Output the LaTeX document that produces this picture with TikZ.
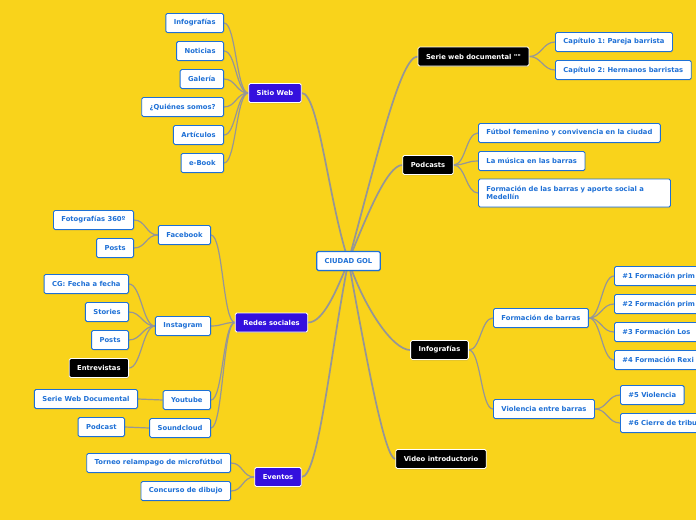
\documentclass[tikz,border=0pt]{standalone}
\usepackage{fontspec}
\setmainfont{DejaVu Sans}[Ligatures=TeXOff]
\frenchspacing
\usetikzlibrary{shadows,backgrounds}
\definecolor{mapyellow}{RGB}{249,211,27}
\definecolor{topicblue}{RGB}{52,16,222}
\definecolor{textblue}{RGB}{30,112,214}
\definecolor{linkgray}{RGB}{150,150,150}
\tikzset{
  box/.style={rectangle, rounded corners=1.5pt, minimum height=19pt, inner xsep=8pt, inner ysep=2pt,
    font=\fontsize{6.8}{8}\selectfont\bfseries,
    drop shadow={shadow xshift=0.5pt, shadow yshift=-1pt, opacity=0.25}},
  subtopic/.style={box, draw=textblue, line width=0.9pt, fill=white, text=textblue},
  maintopic/.style={box, draw=white, line width=0.8pt, fill=topicblue, text=white},
  darktopic/.style={box, draw=white, line width=0.8pt, fill=black, text=white},
  rootnode/.style={subtopic, line width=1.2pt},
  cutnode/.style={subtopic, anchor=west, text width=100pt, align=left},
  link/.style={draw=linkgray, line width=1.2pt},
  rootlink/.style={draw=linkgray, line width=1.7pt},
}
\begin{document}
\begin{tikzpicture}[x=1pt, y=-1pt]
\useasboundingbox (0,0) rectangle (696,520);
\clip (0,0) rectangle (696,520);
% Central topic
\node[rootnode] (root) at (348.5,261) {CIUDAD GOL};
% Left main topics
\node[maintopic] (sw) at (275,93) {Sitio Web};
\node[maintopic] (rs) at (271.5,322.5) {Redes sociales};
\node[maintopic] (ev) at (278,477) {Eventos};
% Right main topics
\node[darktopic] (sd) at (473.5,56.5) {Serie web documental ""};
\node[darktopic] (pc) at (428,165) {Podcasts};
\node[darktopic] (ig) at (439.5,350) {Infografías};
\node[darktopic] (vi) at (441,459) {Video introductorio};
% Sitio Web children
\node[subtopic, anchor=east] (sw1) at (224,23) {Infografías};
\node[subtopic, anchor=east] (sw2) at (224,51) {Noticias};
\node[subtopic, anchor=east] (sw3) at (224,79) {Galería};
\node[subtopic, anchor=east] (sw4) at (224,107) {¿Quiénes somos?};
\node[subtopic, anchor=east] (sw5) at (224,135) {Artículos};
\node[subtopic, anchor=east] (sw6) at (224,163) {e-Book};
% Redes sociales children
\node[subtopic, anchor=east] (fb) at (211,235) {Facebook};
\node[subtopic, anchor=east] (in) at (211,326) {Instagram};
\node[subtopic, anchor=east] (yt) at (211,400) {Youtube};
\node[subtopic, anchor=east] (sc) at (211,428) {Soundcloud};
\node[subtopic, anchor=east] (fb1) at (134,220) {Fotografías 360º};
\node[subtopic, anchor=east] (fb2) at (134,248) {Posts};
\node[subtopic, anchor=east] (in1) at (129,284) {CG: Fecha a fecha};
\node[subtopic, anchor=east] (in2) at (129,312) {Stories};
\node[subtopic, anchor=east] (in3) at (129,340) {Posts};
\node[darktopic, anchor=east] (in4) at (129,368) {Entrevistas};
\node[subtopic, anchor=east] (yt1) at (138,399) {Serie Web Documental};
\node[subtopic, anchor=east] (sc1) at (125,427) {Podcast};
% Eventos children
\node[subtopic, anchor=east] (ev1) at (231,463) {Torneo relampago de microfútbol};
\node[subtopic, anchor=east] (ev2) at (231,491) {Concurso de dibujo};
% Serie web documental children
\node[subtopic, anchor=west] (sd1) at (555,42) {Capítulo 1: Pareja barrista};
\node[subtopic, anchor=west] (sd2) at (555,70) {Capítulo 2: Hermanos barristas};
% Podcasts children
\node[subtopic, anchor=west] (pc1) at (478,133) {Fútbol femenino y convivencia en la ciudad};
\node[subtopic, anchor=west] (pc2) at (478,161) {La música en las barras};
\node[subtopic, anchor=west, text width=176pt, align=left, minimum height=28pt] (pc3) at (478,193)
  {Formación de las barras y aporte social a\\Medellín};
% Infografias children
\node[subtopic, anchor=west] (fo) at (493,318) {Formación de barras};
\node[subtopic, anchor=west] (vb) at (493,409) {Violencia entre barras};
\node[cutnode] (fo1) at (614,276) {\#1 Formación prim};
\node[cutnode] (fo2) at (614,304) {\#2 Formación prim};
\node[cutnode] (fo3) at (614,332) {\#3 Formación Los};
\node[cutnode] (fo4) at (614,360) {\#4 Formación Rexi};
\node[subtopic, anchor=west] (vb1) at (620,395) {\#5 Violencia};
\node[cutnode] (vb2) at (620,423) {\#6 Cierre de tribu};
\begin{scope}[on background layer]
\fill[mapyellow] (0,0) rectangle (696,520);
% Links from the central topic
\draw[rootlink] (sw.east) .. controls +(17,0) and +(-20,-60) .. (root.center);
\draw[rootlink] (rs.east) .. controls +(15,0) and +(-12,30) .. (root.center);
\draw[rootlink] (ev.east) .. controls +(17,0) and +(-18,90) .. (root.center);
\draw[rootlink] (sd.west) .. controls +(-17,0) and +(30,-110) .. (root.center);
\draw[rootlink] (pc.west) .. controls +(-15,0) and +(18,-45) .. (root.center);
\draw[rootlink] (ig.west) .. controls +(-18,0) and +(15,45) .. (root.center);
\draw[rootlink] (vi.west) .. controls +(-10,0) and +(20,110) .. (root.center);
% Sitio Web links
\draw[link] (sw.west) .. controls +(-12,0) and +(12,0) .. (sw1.east);
\draw[link] (sw.west) .. controls +(-12,0) and +(12,0) .. (sw2.east);
\draw[link] (sw.west) .. controls +(-12,0) and +(12,0) .. (sw3.east);
\draw[link] (sw.west) .. controls +(-12,0) and +(12,0) .. (sw4.east);
\draw[link] (sw.west) .. controls +(-12,0) and +(12,0) .. (sw5.east);
\draw[link] (sw.west) .. controls +(-12,0) and +(12,0) .. (sw6.east);
% Redes sociales links
\draw[link] (rs.west) .. controls +(-12,0) and +(12,0) .. (fb.east);
\draw[link] (rs.west) .. controls +(-12,0) and +(12,0) .. (in.east);
\draw[link] (rs.west) .. controls +(-12,0) and +(12,0) .. (yt.east);
\draw[link] (rs.west) .. controls +(-12,0) and +(12,0) .. (sc.east);
\draw[link] (fb.west) .. controls +(-12,0) and +(12,0) .. (fb1.east);
\draw[link] (fb.west) .. controls +(-12,0) and +(12,0) .. (fb2.east);
\draw[link] (in.west) .. controls +(-12,0) and +(12,0) .. (in1.east);
\draw[link] (in.west) .. controls +(-12,0) and +(12,0) .. (in2.east);
\draw[link] (in.west) .. controls +(-12,0) and +(12,0) .. (in3.east);
\draw[link] (in.west) .. controls +(-12,0) and +(12,0) .. (in4.east);
\draw[link] (yt.west) -- (yt1.east);
\draw[link] (sc.west) -- (sc1.east);
% Eventos links
\draw[link] (ev.west) .. controls +(-12,0) and +(12,0) .. (ev1.east);
\draw[link] (ev.west) .. controls +(-12,0) and +(12,0) .. (ev2.east);
% Right side links
\draw[link] (sd.east) .. controls +(12,0) and +(-12,0) .. (sd1.west);
\draw[link] (sd.east) .. controls +(12,0) and +(-12,0) .. (sd2.west);
\draw[link] (pc.east) .. controls +(12,0) and +(-12,0) .. (pc1.west);
\draw[link] (pc.east) .. controls +(12,0) and +(-12,0) .. (pc2.west);
\draw[link] (pc.east) .. controls +(12,0) and +(-12,0) .. (pc3.west);
\draw[link] (ig.east) .. controls +(12,0) and +(-12,0) .. (fo.west);
\draw[link] (ig.east) .. controls +(12,0) and +(-12,0) .. (vb.west);
\draw[link] (fo.east) .. controls +(12,0) and +(-12,0) .. (fo1.west);
\draw[link] (fo.east) .. controls +(12,0) and +(-12,0) .. (fo2.west);
\draw[link] (fo.east) .. controls +(12,0) and +(-12,0) .. (fo3.west);
\draw[link] (fo.east) .. controls +(12,0) and +(-12,0) .. (fo4.west);
\draw[link] (vb.east) .. controls +(12,0) and +(-12,0) .. (vb1.west);
\draw[link] (vb.east) .. controls +(12,0) and +(-12,0) .. (vb2.west);
\end{scope}
\end{tikzpicture}
\end{document}
